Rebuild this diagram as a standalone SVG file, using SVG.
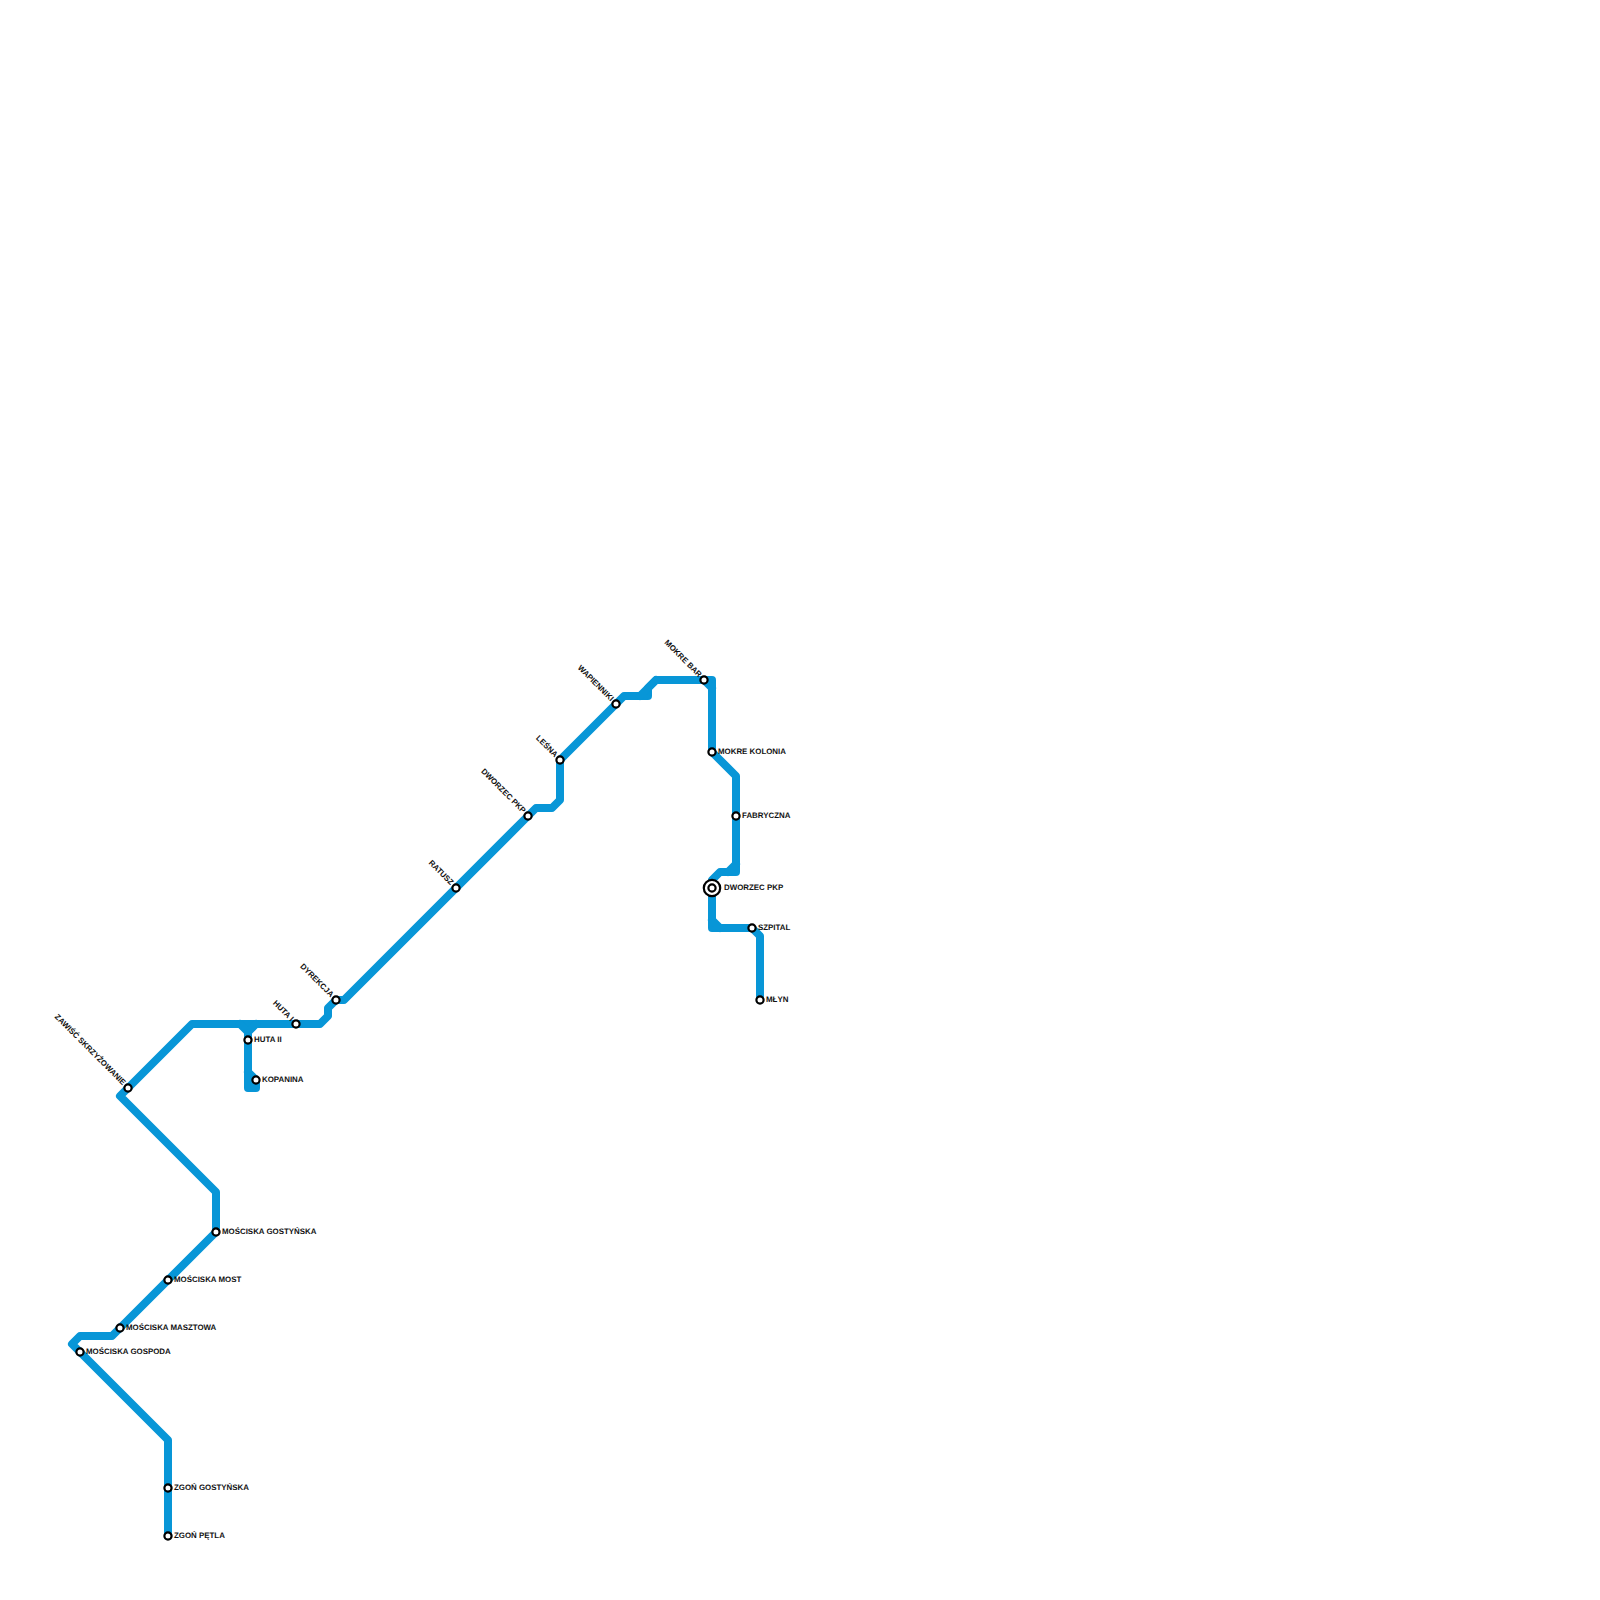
<svg xmlns="http://www.w3.org/2000/svg" width="1600" height="1600" viewBox="0 0 1600 1600">
<style>
.line{fill:none;stroke:#0896d7;stroke-width:8;stroke-linejoin:round;stroke-linecap:round}
.st{fill:#fff;stroke:#000;stroke-width:2.2}
text{font-family:"Liberation Sans",Arial,sans-serif;font-size:7.9px;font-weight:700;fill:#111;text-rendering:geometricPrecision}
.r{text-anchor:end}
</style>
<rect width="1600" height="1600" fill="#fff"/>
<g id="connectors">
<path class="line" d="M168 1536V1440L72 1344L80 1336H112L120 1328L216 1232V1192L120 1096L128 1088L192 1024H320L328 1016V1008L336 1000H344L528 816L536 808H552L560 800V760L616 704L624 696H648V688L656 680H712V752L736 776V872H720L712 880V928H752L760 936V1000"/>
<path class="line" d="M240 1024L248 1032L256 1024M248 1032V1088H256V1080L248 1072"/>
<path class="line" d="M640 696L656 680M704 680L712 688M736 864L728 872M712 920L720 928"/>
</g>
<g id="n-zawisc"><circle class="st" cx="128" cy="1088" r="3.6"/><text class="r" transform="translate(122.5 1085.5) rotate(45)">ZAWIŚĆ SKRZYŻOWANIE</text></g>
<g id="n-huta1"><circle class="st" cx="296" cy="1024" r="3.6"/><text class="r" transform="translate(290.5 1021.5) rotate(45)">HUTA I</text></g>
<g id="n-huta2"><circle class="st" cx="248" cy="1040" r="3.6"/><text x="254" y="1042">HUTA II</text></g>
<g id="n-kopanina"><circle class="st" cx="256" cy="1080" r="3.6"/><text x="262" y="1082">KOPANINA</text></g>
<g id="n-dyrekcja"><circle class="st" cx="336" cy="1000" r="3.6"/><text class="r" transform="translate(330.5 997.5) rotate(45)">DYREKCJA</text></g>
<g id="n-ratusz"><circle class="st" cx="456" cy="888" r="3.6"/><text class="r" transform="translate(450.5 885.5) rotate(45)">RATUSZ</text></g>
<g id="n-dworzec2"><circle class="st" cx="528" cy="816" r="3.6"/><text class="r" transform="translate(522.5 813.5) rotate(45)">DWORZEC PKP</text></g>
<g id="n-lesna"><circle class="st" cx="560" cy="760" r="3.6"/><text class="r" transform="translate(554.5 757.5) rotate(45)">LEŚNA</text></g>
<g id="n-wapienniki"><circle class="st" cx="616" cy="704" r="3.6"/><text class="r" transform="translate(610.5 701.5) rotate(45)">WAPIENNIKI</text></g>
<g id="n-mokrebar"><circle class="st" cx="704" cy="680" r="3.6"/><text class="r" transform="translate(698.5 677.5) rotate(45)">MOKRE BAR</text></g>
<g id="n-mokrekolonia"><circle class="st" cx="712" cy="752" r="3.6"/><text x="718" y="754">MOKRE KOLONIA</text></g>
<g id="n-fabryczna"><circle class="st" cx="736" cy="816" r="3.6"/><text x="742" y="818">FABRYCZNA</text></g>
<g id="n-dworzec"><circle class="st" cx="712" cy="888" r="8.2"/><circle class="st" cx="712" cy="888" r="3.6"/><text x="724" y="890">DWORZEC PKP</text></g>
<g id="n-szpital"><circle class="st" cx="752" cy="928" r="3.6"/><text x="758" y="930">SZPITAL</text></g>
<g id="n-mlyn"><circle class="st" cx="760" cy="1000" r="3.6"/><text x="766" y="1002">MŁYN</text></g>
<g id="n-gostynska"><circle class="st" cx="216" cy="1232" r="3.6"/><text x="222" y="1234">MOŚCISKA GOSTYŃSKA</text></g>
<g id="n-most"><circle class="st" cx="168" cy="1280" r="3.6"/><text x="174" y="1282">MOŚCISKA MOST</text></g>
<g id="n-masztowa"><circle class="st" cx="120" cy="1328" r="3.6"/><text x="126" y="1330">MOŚCISKA MASZTOWA</text></g>
<g id="n-gospoda"><circle class="st" cx="80" cy="1352" r="3.6"/><text x="86" y="1354">MOŚCISKA GOSPODA</text></g>
<g id="n-zgon"><circle class="st" cx="168" cy="1488" r="3.6"/><text x="174" y="1490">ZGOŃ GOSTYŃSKA</text></g>
<g id="n-petla"><circle class="st" cx="168" cy="1536" r="3.6"/><text x="174" y="1538">ZGOŃ PĘTLA</text></g>
</svg>
